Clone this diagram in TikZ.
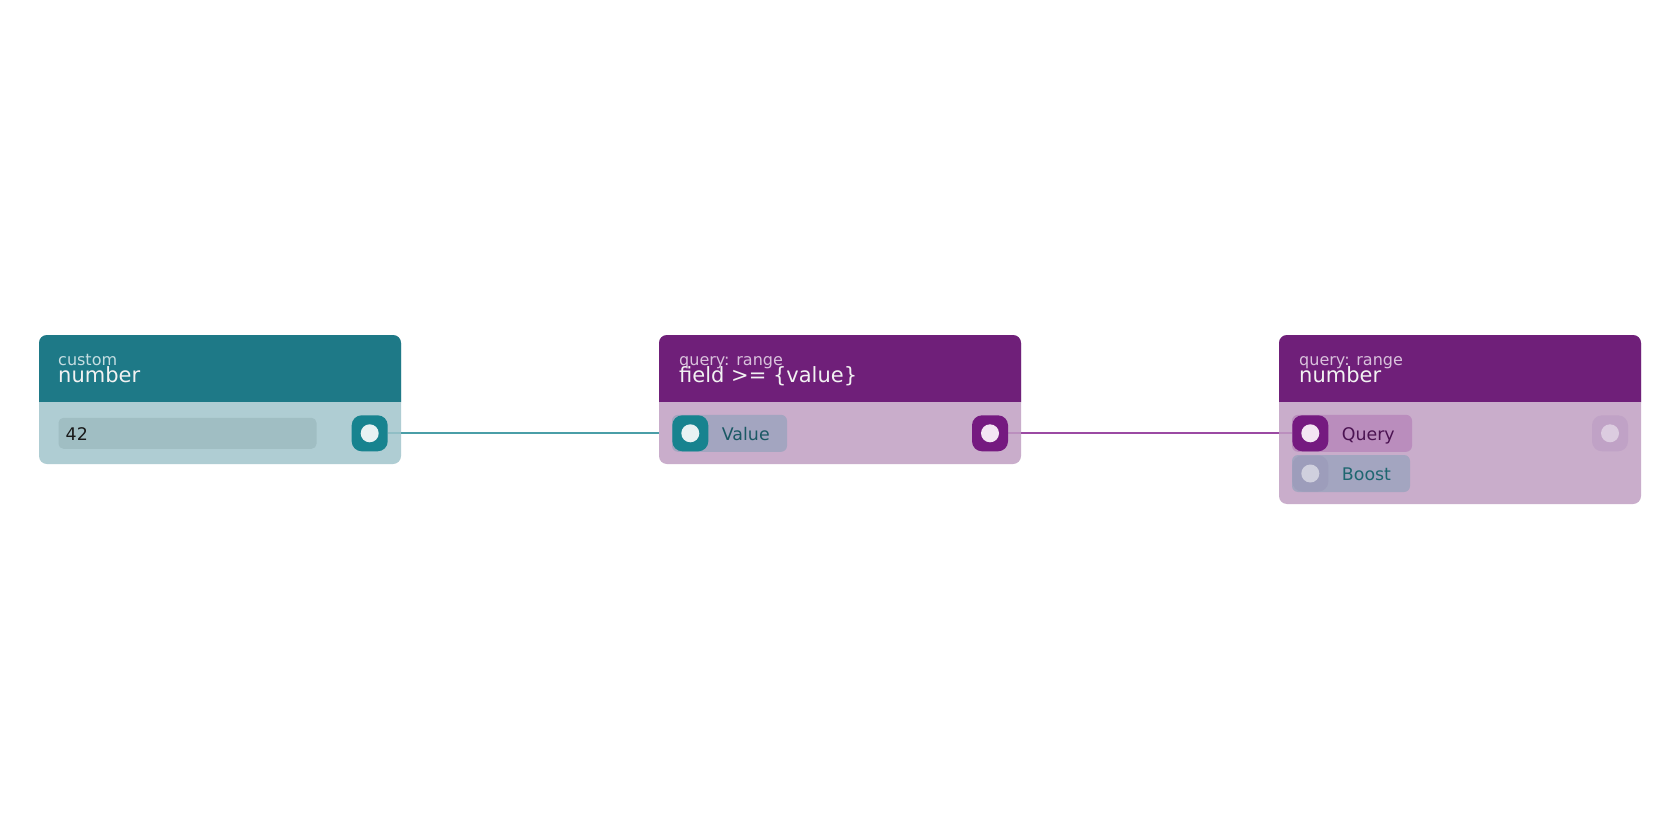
\documentclass[tikz,border=0pt]{standalone}
\usepackage{fontspec}
\setmainfont{DejaVu Sans}
\definecolor{tealhead}{HTML}{1E7987}
\definecolor{tealbody}{HTML}{AFCDD3}
\definecolor{tealfield}{HTML}{A0BEC3}
\definecolor{tealport}{HTML}{17838F}
\definecolor{tealdot}{HTML}{E8F2F3}
\definecolor{tealline}{HTML}{4A9EA7}
\definecolor{purphead}{HTML}{6F1F79}
\definecolor{purpbody}{HTML}{C9ADCB}
\definecolor{purpport}{HTML}{751A80}
\definecolor{purpdot}{HTML}{F3E6F3}
\definecolor{purpline}{HTML}{9B4AA3}
\definecolor{greypill}{HTML}{A3A5C0}
\definecolor{querypill}{HTML}{BA8DBD}
\definecolor{boostport}{HTML}{9D9DBB}
\definecolor{boostdot}{HTML}{D0D0DE}
\definecolor{fadeport}{HTML}{C0A2C6}
\definecolor{fadedot}{HTML}{DCCCE0}
\definecolor{headtxt}{HTML}{F2F2F2}
\definecolor{tealsub}{HTML}{C6DEE2}
\definecolor{purpsub}{HTML}{D9C2DC}
\definecolor{valtxt}{HTML}{1A5864}
\definecolor{querytxt}{HTML}{4B1352}
\definecolor{boosttxt}{HTML}{1E6670}
\tikzset{
  card/.style={rectangle, inner sep=0pt, outer sep=0pt, minimum width=362pt, rounded corners=8pt},
  port/.style={rectangle, inner sep=0pt, outer sep=0pt, minimum size=36pt, rounded corners=10pt, fill=#1},
  pill/.style={rectangle, inner sep=0pt, outer sep=0pt, minimum height=37pt, rounded corners=6pt, fill=#1},
  sub/.style={anchor=base west, inner sep=0pt, font=\fontsize{16}{16}\selectfont},
  title/.style={anchor=base west, inner sep=0pt, font=\fontsize{21}{21}\selectfont, text=headtxt},
  lbl/.style={anchor=base west, inner sep=0pt, font=\fontsize{17.4}{17.4}\selectfont},
  conn/.style={line width=2pt},
}
\begin{document}
\begin{tikzpicture}[x=1pt,y=-1pt]
\useasboundingbox (0,0) rectangle (1680,840);
\fill[white] (0,0) rectangle (1680,840);
% ---------- card 1 ----------
\node[card, minimum height=129pt, fill=tealbody] (n1) at (220,399.5) {};
\fill[tealhead, rounded corners=8pt] (n1.north west) rectangle (n1.east |- 0,410);
\fill[tealbody] (n1.west |- 0,402) rectangle (n1.east |- 0,412);
\node[sub, text=tealsub] (t1a) at (58,365.7) {custom};
\node[title] (t1b) at (58,382.5) {number};
\node[pill=tealfield, minimum width=258pt, minimum height=31pt, rounded corners=5pt] (f1) at (187.5,433.3) {};
\node[lbl, text=black!90] (f1t) at (65.5,440) {42};
\node[port=tealport] (p1) at (369.7,433.3) {};
\fill[tealdot] (p1.center) circle[radius=9pt];
% ---------- card 2 ----------
\node[card, minimum height=129pt, fill=purpbody] (n2) at (840,399.5) {};
\fill[purphead, rounded corners=8pt] (n2.north west) rectangle (n2.east |- 0,410);
\fill[purpbody] (n2.west |- 0,402) rectangle (n2.east |- 0,412);
\node[sub, text=purpsub] (t2a) at (679,365.7) {query: range};
\node[title] (t2b) at (679,382.5) {field >= \{value\}};
\node[pill=greypill, minimum width=115pt] (v2) at (729.5,433.3) {};
\node[port=tealport] (p2in) at (690.3,433.3) {};
\fill[tealdot] (p2in.center) circle[radius=9pt];
\node[lbl, text=valtxt] (v2t) at (721.7,440) {Value};
\node[port=purpport] (p2out) at (990,433.3) {};
\fill[purpdot] (p2out.center) circle[radius=9pt];
% ---------- card 3 ----------
\node[card, minimum height=169pt, fill=purpbody] (n3) at (1460,419.5) {};
\fill[purphead, rounded corners=8pt] (n3.north west) rectangle (n3.east |- 0,410);
\fill[purpbody] (n3.west |- 0,402) rectangle (n3.east |- 0,412);
\node[sub, text=purpsub] (t3a) at (1299,365.7) {query: range};
\node[title] (t3b) at (1299,382.5) {number};
\node[pill=querypill, minimum width=120pt] (q3) at (1352,433.3) {};
\node[port=purpport] (p3q) at (1310.3,433.3) {};
\fill[purpdot] (p3q.center) circle[radius=9pt];
\node[lbl, text=querytxt] (q3t) at (1341.7,440) {Query};
\node[pill=greypill, minimum width=118pt] (b3) at (1351,473.5) {};
\node[port=boostport] (p3b) at (1310.3,473.5) {};
\fill[boostdot] (p3b.center) circle[radius=9pt];
\node[lbl, text=boosttxt] (b3t) at (1341.7,480) {Boost};
\node[port=fadeport] (p3out) at (1610,433.3) {};
\fill[fadedot] (p3out.center) circle[radius=9pt];
% ---------- connectors ----------
\draw[conn, tealline] (n1.east |- p1) -- (n2.west |- p2in);
\draw[conn, tealline, opacity=0.3] (p1.east) -- (n1.east |- p1);
\draw[conn, purpline] (n2.east |- p2out) -- (n3.west |- p3q);
\draw[conn, purpline, opacity=0.3] (p2out.east) -- (n2.east |- p2out);
\draw[conn, purpline, opacity=0.3] (n3.west |- p3q) -- (p3q.west);
\end{tikzpicture}
\end{document}
